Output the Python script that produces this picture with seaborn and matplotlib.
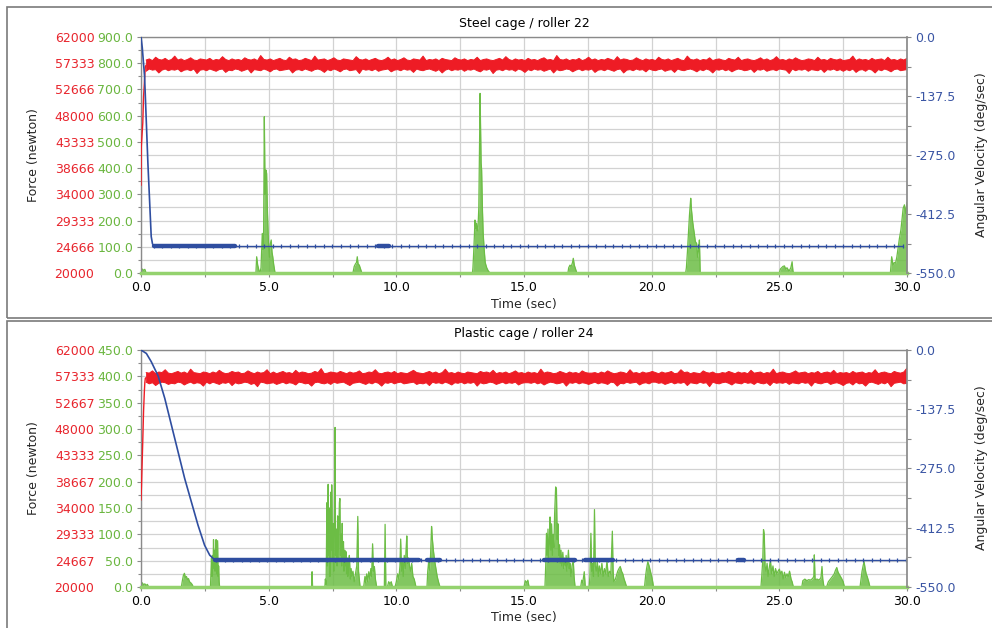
import numpy as np
import pandas as pd
import matplotlib
matplotlib.use("Agg")
import matplotlib.pyplot as plt
import seaborn as sns
from matplotlib.patches import Rectangle
from matplotlib.ticker import MultipleLocator, FixedLocator, FixedFormatter

sns.set_theme(style="white")
plt.rcParams['font.family'] = ['DejaVu Sans']

# ---------------- data ----------------
titles = ["Steel cage / roller 22", "Plastic cage / roller 24"]
x_ticks = [0.0, 5.0, 10.0, 15.0, 20.0, 25.0, 30.0]
x_tick_labels = ["0.0", "5.0", "10.0", "15.0", "20.0", "25.0", "30.0"]

red_labels_top = ["20000", "24666", "29333", "34000", "38666", "43333", "48000", "52666", "57333", "62000"]
red_labels_bot = ["20000", "24667", "29333", "34000", "38667", "43333", "48000", "52667", "57333", "62000"]
green_ticks_top = [0, 100, 200, 300, 400, 500, 600, 700, 800, 900]
green_ticks_bot = [0, 50, 100, 150, 200, 250, 300, 350, 400, 450]
blue_ticks = [-550.0, -412.5, -275.0, -137.5, 0.0]

# red force: start ramp (N)
red_ramp_t_top = [0.0, 0.01, 0.04, 0.07, 0.10, 0.14, 0.17, 0.20]
red_ramp_v_top = [35600, 42400, 44500, 46700, 51400, 54500, 56700, 57000]
red_ramp_t_bot = [0.0, 0.02, 0.065, 0.10, 0.13, 0.15, 0.17, 0.20]
red_ramp_v_bot = [35400, 38000, 45200, 51100, 54500, 56200, 57000, 57100]

# red force noise: upper / lower extent of the trace after the ramp (hundreds of N), 0.2 s .. 30 s
red_hi_top = [579, 581, 578, 584, 580, 579, 582, 578, 580, 586, 579, 581, 578, 580, 583, 579, 578, 581, 580, 579,
              582, 578, 580, 579, 585, 580, 578, 581, 579, 580, 578, 583, 580, 579, 581, 578, 587, 580, 579, 581,
              578, 580, 582, 579, 578, 584, 580, 581, 578, 579, 582, 580, 578, 586, 579, 580, 581, 578, 580, 583,
              579, 578, 581, 580, 579, 578, 585, 580, 579, 581, 578, 580, 582, 579, 578, 580, 584, 579, 581, 578,
              580, 583, 579, 578, 581, 580, 579, 586, 578, 580, 579, 581, 578, 582, 580, 579, 578, 583, 580, 579,
              581, 578, 580, 579, 584, 578, 580, 581, 579, 578, 580, 582, 579, 585, 580, 578, 581, 579, 580, 578,
              582, 579, 580, 578, 581, 583, 579, 580, 578, 587, 580, 579, 581, 578, 580, 579, 582, 578, 580, 584,
              579, 581, 578, 580, 579, 582, 580, 578, 585, 579, 581, 580, 578, 579, 583, 580, 578, 581, 579, 580,
              578, 584, 580, 579, 581, 578, 580, 582, 579, 578, 586, 580, 579, 581, 578, 580, 579, 583, 578, 580,
              581, 579, 578, 582, 580, 579, 584, 578, 580, 581, 579, 578, 580, 583, 579, 581, 578, 580, 585, 579,
              580, 578, 581, 579, 583, 580, 578, 579, 581, 580, 578, 584, 579, 580, 578, 582, 580, 579, 581, 578,
              579, 580, 586, 578, 581, 579, 580, 578, 582, 579, 580, 581, 578, 584, 579, 580, 578, 581, 579, 582]
red_lo_top = [559, 563, 561, 562, 556, 561, 563, 560, 562, 561, 563, 558, 561, 562, 560, 563, 555, 561, 562, 560,
              563, 561, 559, 562, 563, 557, 561, 560, 563, 562, 559, 561, 563, 556, 562, 561, 560, 563, 561, 558,
              562, 563, 560, 561, 562, 563, 556, 561, 562, 560, 563, 561, 559, 562, 563, 561, 557, 562, 560, 563,
              561, 558, 562, 563, 560, 561, 562, 555, 563, 561, 562, 560, 563, 559, 561, 562, 563, 558, 561, 562,
              560, 563, 561, 562, 557, 563, 561, 560, 562, 563, 561, 559, 562, 556, 561, 563, 560, 562, 561, 563,
              559, 562, 561, 563, 560, 558, 562, 561, 563, 555, 561, 562, 560, 563, 561, 562, 559, 563, 561, 557,
              562, 560, 563, 561, 562, 559, 561, 563, 556, 562, 560, 561, 563, 562, 558, 561, 563, 560, 562, 561,
              563, 557, 561, 562, 560, 563, 561, 559, 562, 563, 556, 561, 562, 560, 563, 561, 562, 558, 563, 561,
              560, 562, 563, 559, 561, 562, 557, 563, 561, 560, 562, 563, 561, 558, 562, 560, 563, 561, 556, 562,
              561, 563, 560, 562, 558, 561, 563, 562, 560, 561, 563, 557, 562, 561, 563, 559, 561, 562, 560, 563,
              562, 561, 555, 563, 560, 562, 561, 563, 559, 562, 561, 560, 563, 557, 562, 561, 563, 560, 562, 559,
              562, 560, 563, 557, 561, 562, 559, 563, 561, 556, 562, 560, 563, 561, 558, 562, 563, 560, 561, 562]
red_hi_bot = [580, 579, 583, 578, 581, 580, 585, 579, 578, 580, 582, 579, 581, 578, 586, 580, 579, 578, 581, 580,
              578, 581, 579, 584, 580, 578, 579, 582, 580, 581, 578, 579, 583, 580, 578, 581, 579, 580, 585, 578,
              581, 578, 580, 582, 579, 580, 578, 584, 579, 581, 580, 578, 579, 582, 580, 587, 578, 579, 581, 580,
              579, 582, 580, 578, 581, 579, 580, 583, 578, 579, 581, 580, 585, 579, 578, 580, 581, 579, 582, 578,
              580, 579, 578, 581, 584, 580, 579, 578, 580, 582, 579, 581, 578, 580, 586, 579, 580, 578, 581, 579,
              578, 581, 580, 579, 578, 582, 580, 581, 579, 584, 578, 580, 579, 581, 578, 580, 583, 579, 580, 578,
              581, 579, 580, 578, 586, 579, 581, 580, 578, 579, 582, 580, 578, 581, 579, 580, 578, 583, 580, 579,
              579, 580, 578, 581, 579, 583, 580, 578, 579, 581, 580, 578, 585, 579, 580, 578, 581, 579, 580, 582,
              580, 578, 581, 579, 580, 582, 578, 579, 585, 580, 581, 578, 580, 579, 578, 583, 580, 579, 581, 578,
              578, 580, 579, 582, 580, 578, 581, 579, 580, 578, 584, 579, 580, 581, 578, 580, 579, 586, 578, 580,
              581, 579, 578, 580, 583, 579, 580, 581, 578, 580, 579, 582, 578, 580, 581, 579, 584, 578, 580, 579,
              580, 578, 582, 579, 580, 581, 578, 580, 579, 585, 578, 580, 581, 579, 578, 582, 580, 579, 581, 588]
red_lo_bot = [563, 560, 562, 557, 561, 563, 562, 559, 561, 560, 563, 562, 558, 561, 563, 560, 562, 561, 556, 563,
              560, 563, 561, 559, 562, 561, 563, 557, 562, 560, 561, 563, 562, 559, 561, 555, 563, 562, 560, 561,
              562, 559, 561, 563, 560, 562, 561, 558, 563, 562, 560, 561, 556, 562, 563, 561, 560, 562, 559, 563,
              561, 562, 563, 560, 557, 561, 562, 563, 561, 559, 562, 560, 563, 561, 556, 562, 561, 563, 560, 562,
              563, 560, 561, 562, 563, 559, 561, 560, 562, 557, 563, 561, 562, 560, 563, 561, 558, 562, 561, 563,
              560, 562, 561, 563, 556, 562, 560, 561, 563, 562, 559, 561, 563, 560, 562, 561, 563, 558, 561, 562,
              562, 561, 563, 560, 562, 558, 561, 563, 562, 560, 561, 563, 556, 562, 561, 563, 560, 562, 561, 559,
              561, 563, 560, 562, 561, 559, 563, 562, 556, 561, 560, 563, 561, 562, 563, 558, 561, 562, 560, 563,
              563, 561, 562, 559, 561, 563, 560, 562, 561, 563, 557, 562, 561, 560, 563, 561, 562, 555, 563, 561,
              560, 562, 563, 561, 558, 562, 561, 560, 563, 561, 562, 559, 563, 561, 560, 562, 557, 563, 561, 562,
              561, 563, 559, 562, 561, 560, 563, 561, 562, 556, 563, 561, 560, 562, 563, 559, 561, 562, 560, 557,
              561, 562, 558, 563, 560, 561, 556, 562, 563, 561, 559, 562, 560, 563, 555, 561, 562, 563, 560, 561]

# angular velocity (deg/sec): spin-down then steady value
blue_drop_t_top = [0.0, 0.05, 0.14, 0.27, 0.40, 0.45, 0.50]
blue_drop_v_top = [0, -25, -92, -294, -465, -482, -487]
blue_drop_t_bot = [0.0, 0.21, 0.40, 0.67, 0.93, 1.19, 1.45, 1.71, 1.97, 2.23, 2.49, 2.69, 2.85, 2.95]
blue_drop_v_bot = [0, -8, -27, -60, -112, -174, -236, -298, -352, -406, -453, -476, -485, -487]
blue_steady = -487
blue_thick_top = [(0.5, 3.7), (9.3, 9.7)]
blue_thick_bot = [(2.9, 10.9), (11.2, 11.7), (15.8, 17.0), (17.4, 18.5), (23.4, 23.6)]

# green contact force bursts (time s, value)
green_t_top = [0.0, 0.05, 0.10, 0.15, 0.20,
               4.50, 4.53, 4.57, 4.62, 4.66, 4.70, 4.75, 4.78, 4.80, 4.83, 4.86, 4.89, 4.92, 4.95, 4.98, 5.00, 5.03, 5.06, 5.10, 5.13, 5.16, 5.20, 5.25,
               8.30, 8.35, 8.40, 8.44, 8.47, 8.50, 8.55, 8.60, 8.65,
               12.98, 13.00, 13.03, 13.06, 13.08, 13.11, 13.14, 13.17, 13.20, 13.23, 13.26, 13.28, 13.30, 13.32, 13.34, 13.37, 13.40, 13.44, 13.48, 13.54, 13.60, 13.67,
               16.72, 16.75, 16.80, 16.85, 16.90, 16.93, 16.97, 17.02, 17.07,
               21.33, 21.36, 21.40, 21.44, 21.48, 21.51, 21.53, 21.56, 21.60, 21.63, 21.67, 21.71, 21.76, 21.80, 21.84, 21.87, 21.90,
               25.00, 25.04, 25.09, 25.14, 25.20, 25.25, 25.30, 25.38, 25.45, 25.50, 25.53, 25.55,
               29.35, 29.40, 29.45, 29.50, 29.55, 29.60, 29.66, 29.70, 29.76, 29.80, 29.85, 29.90, 29.95, 30.0]
green_v_top = [12, 15, 10, 14, 0,
               0, 62, 30, 10, 0, 20, 151, 90, 123, 596, 300, 393, 380, 240, 150, 100, 60, 110, 126, 80, 62, 30, 0,
               0, 25, 35, 40, 62, 35, 30, 15, 0,
               0, 20, 80, 150, 202, 170, 190, 160, 177, 250, 500, 685, 550, 420, 393, 250, 152, 90, 40, 20, 8, 0,
               0, 20, 30, 25, 40, 56, 30, 15, 0,
               0, 20, 80, 151, 220, 260, 285, 240, 200, 177, 150, 120, 113, 60, 90, 126, 0,
               0, 15, 20, 25, 27, 15, 20, 7, 20, 43, 10, 0,
               0, 62, 30, 40, 37, 60, 101, 130, 164, 200, 247, 260, 227, 270]

green_t_bot = [0.0, 0.05, 0.10, 0.15, 0.20, 0.25, 0.30,
               1.58, 1.62, 1.66, 1.70, 1.74, 1.78, 1.82, 1.86, 1.90, 1.95, 2.00, 2.05,
               2.72, 2.74, 2.76, 2.78, 2.80, 2.82, 2.84, 2.86, 2.88, 2.90, 2.92, 2.94, 2.96, 2.98, 3.00, 3.02, 3.04, 3.06, 3.08,
               6.68, 6.70, 6.72,
               7.20, 7.22, 7.25, 7.28, 7.30, 7.33, 7.35, 7.38, 7.40, 7.43, 7.45, 7.47, 7.50, 7.53, 7.55, 7.58, 7.60, 7.62, 7.65, 7.68,
               7.70, 7.72, 7.75, 7.77, 7.79, 7.81, 7.84, 7.86, 7.88, 7.90, 7.93, 7.95, 7.98, 8.00, 8.03, 8.05, 8.08, 8.10, 8.13, 8.16,
               8.20, 8.23, 8.26, 8.30, 8.35, 8.40, 8.45, 8.49, 8.52, 8.55, 8.58,
               8.72, 8.77, 8.80, 8.84, 8.88, 8.92, 8.96, 9.00, 9.03, 9.07, 9.10, 9.14, 9.18, 9.23,
               9.53, 9.56, 9.59,
               9.65, 9.70, 9.75, 9.80, 9.85,
               9.95, 10.00, 10.05, 10.10, 10.14, 10.17, 10.20, 10.24, 10.27, 10.31, 10.35, 10.38, 10.41, 10.44, 10.48, 10.52, 10.56, 10.60, 10.65, 10.70, 10.77,
               11.20, 11.23, 11.27, 11.30, 11.34, 11.38, 11.41, 11.45, 11.50, 11.55, 11.60, 11.65, 11.71,
               15.00, 15.05, 15.10, 15.15, 15.20,
               15.82, 15.85, 15.88, 15.91, 15.94, 15.97, 16.00, 16.02, 16.05, 16.08, 16.11, 16.14, 16.17, 16.20, 16.24, 16.27, 16.30,
               16.33, 16.36, 16.39, 16.42, 16.45, 16.48, 16.52, 16.55, 16.58, 16.62, 16.65, 16.68, 16.71, 16.74, 16.77, 16.80, 16.84,
               16.88, 16.93, 16.96, 17.00,
               17.22, 17.26, 17.30, 17.36, 17.40,
               17.55, 17.58, 17.62, 17.65, 17.69, 17.72, 17.76, 17.79, 17.83, 17.87, 17.91, 17.95, 18.00, 18.05, 18.10, 18.15, 18.20,
               18.25, 18.30, 18.35, 18.40, 18.46, 18.49, 18.52,
               18.58, 18.62, 18.67, 18.72, 18.77, 18.82, 18.87, 18.92, 18.97, 19.02,
               19.72, 19.76, 19.80, 19.85, 19.90, 19.95, 20.00, 20.04, 20.07,
               24.28, 24.31, 24.35, 24.38, 24.41, 24.44, 24.48, 24.52, 24.56, 24.60, 24.65, 24.70, 24.75, 24.80, 24.85, 24.90, 24.95,
               25.00, 25.05, 25.10, 25.15, 25.20, 25.25, 25.30, 25.35, 25.40, 25.46, 25.50, 25.55,
               25.88, 25.92, 26.00, 26.08, 26.15, 26.22, 26.30, 26.35, 26.37, 26.40, 26.48, 26.56, 26.63, 26.67, 26.70, 26.75,
               26.85, 26.92, 27.00, 27.08, 27.15, 27.20, 27.25, 27.30, 27.37, 27.44, 27.50, 27.55,
               28.16, 28.20, 28.24, 28.28, 28.32, 28.36, 28.40, 28.44, 28.50, 28.55]
green_v_bot = [5, 8, 4, 6, 3, 5, 0,
               0, 12, 22, 26, 18, 20, 14, 16, 10, 8, 5, 0,
               0, 30, 55, 20, 60, 35, 90, 40, 70, 30, 55, 90, 25, 60, 88, 20, 40, 10, 0,
               0, 29, 0,
               0, 15, 5, 160, 40, 195, 60, 150, 20, 180, 70, 194, 50, 120, 30, 150, 303, 60, 110, 40,
               135, 50, 120, 160, 168, 60, 100, 40, 121, 50, 86, 30, 70, 40, 67, 25, 55, 20, 45, 60,
               15, 35, 20, 30, 10, 25, 40, 134, 30, 15, 0,
               0, 20, 8, 25, 10, 29, 15, 35, 20, 82, 30, 39, 15, 0,
               0, 119, 0,
               0, 10, 6, 10, 0,
               0, 10, 25, 15, 40, 91, 30, 51, 20, 60, 35, 70, 97, 45, 55, 39, 30, 45, 20, 15, 0,
               0, 30, 50, 32, 60, 115, 92, 70, 50, 35, 20, 10, 0,
               0, 12, 8, 13, 0,
               0, 40, 102, 60, 110, 50, 90, 133, 70, 120, 60, 100, 75, 140, 190, 186, 90,
               120, 60, 80, 45, 70, 40, 66, 35, 55, 40, 60, 30, 50, 70, 35, 45, 20,
               40, 51, 20, 0,
               0, 13, 8, 29, 0,
               0, 20, 102, 30, 45, 20, 147, 40, 30, 50, 20, 40, 25, 45, 20, 35, 25,
               50, 20, 30, 25, 106, 30, 10,
               15, 22, 30, 35, 39, 30, 25, 15, 8, 0,
               0, 20, 35, 48, 40, 30, 20, 10, 0,
               0, 20, 50, 109, 100, 40, 30, 45, 20, 35, 51, 25, 40, 20, 35, 25, 30,
               34, 25, 30, 15, 28, 18, 25, 20, 30, 15, 10, 0,
               0, 12, 15, 12, 14, 13, 16, 20, 61, 14, 15, 13, 18, 39, 15, 0,
               0, 10, 15, 20, 25, 32, 37, 28, 22, 16, 10, 0,
               0, 15, 30, 40, 48, 35, 25, 20, 10, 0]

# ---------------- style ----------------
RED = "#ee1c25"
GREEN = "#6cbd45"
GREEN_BASE = "#94d26e"
BLUE = "#2f4ea0"
RED_TXT = "#e8252d"
GREEN_TXT = "#6ab63f"
BLUE_TXT = "#3a55a4"
GRID = "#d2d2d2"
SPINE = "#8a8a8a"
FS = 9

W, H = 992, 628
fig = plt.figure(figsize=(W / 100, H / 100), dpi=100)


def fx(px):
    return px / W


def fy(py):
    return 1 - py / H


def with_zero_gaps(t, v):
    tt, vv = [0.0], [0.0]
    tt += list(t)
    vv += list(v)
    tt.append(30.0)
    vv.append(vv[-1])
    return tt, vv


def panel(top_px, bot_px, title, title_gap, gmax, gticks, red_labels, g_t, g_v,
          rr_t, rr_v, r_hi, r_lo, b_t, b_v, thick):
    ax = fig.add_axes([fx(141), fy(bot_px), fx(907 - 141), (bot_px - top_px) / H])
    ax.set_xlim(0, 30)
    ax.set_ylim(0, gmax)
    ax.set_facecolor("white")
    ax.xaxis.set_major_locator(FixedLocator(x_ticks))
    ax.xaxis.set_major_formatter(FixedFormatter(x_tick_labels))
    ax.xaxis.set_minor_locator(MultipleLocator(2.5))
    ax.yaxis.set_major_locator(FixedLocator(gticks))
    ax.yaxis.set_major_formatter(FixedFormatter([f"{g:.1f}" for g in gticks]))
    ax.yaxis.set_minor_locator(MultipleLocator(gticks[1] / 2))
    ax.grid(True, which="both", color=GRID, lw=0.9)
    ax.set_axisbelow(True)
    ax.tick_params(axis="y", which="both", left=True, length=3, width=0.8, color=SPINE,
                   labelcolor=GREEN_TXT, labelsize=FS, pad=2.5)
    ax.tick_params(axis="y", which="minor", length=2.5)
    ax.tick_params(axis="x", which="both", bottom=True, length=3, width=0.8, color=SPINE,
                   labelcolor="black", labelsize=FS, pad=3)
    for s in ["top", "left"]:
        ax.spines[s].set_color(SPINE)
        ax.spines[s].set_linewidth(1.0)
    ax.spines["right"].set_visible(False)
    ax.spines["bottom"].set_color(GREEN_BASE)
    ax.spines["bottom"].set_linewidth(2.5)

    # green trace
    gt, gv = with_zero_gaps(g_t, g_v)
    ax.fill_between(g_t, 0, g_v, color=GREEN, alpha=0.85, lw=0)
    sns.lineplot(x=gt, y=gv, ax=ax, color=GREEN, lw=0.9, estimator=None, sort=False)
    ax.set_xlabel("")
    ax.set_ylabel("")

    # red trace on its own scale
    axr = ax.twinx()
    axr.set_ylim(20000, 62000)
    axr.set_xlim(0, 30)
    red_tick_pos = [20000 + i * (42000 / 9) for i in range(10)]
    axr.yaxis.set_major_locator(FixedLocator(red_tick_pos))
    axr.yaxis.set_major_formatter(FixedFormatter(red_labels))
    axr.yaxis.tick_left()
    axr.tick_params(axis="y", length=0, labelcolor=RED_TXT, labelsize=FS, pad=33.5)
    for s in axr.spines.values():
        s.set_visible(False)
    t_hi = np.linspace(0.2, 30.0, len(r_hi))
    t_lo = np.linspace(0.2, 30.0, len(r_lo))
    hi = np.array(r_hi) * 100.0
    lo = np.array(r_lo) * 100.0
    axr.fill(np.concatenate([t_hi, t_lo[::-1]]), np.concatenate([hi, lo[::-1]]), color=RED, lw=0)
    sns.lineplot(x=t_hi, y=hi, ax=axr, color=RED, lw=0.7, estimator=None)
    sns.lineplot(x=t_lo, y=lo, ax=axr, color=RED, lw=0.7, estimator=None)
    sns.lineplot(x=rr_t, y=rr_v, ax=axr, color=RED, lw=1.0, estimator=None, sort=False)
    axr.set_ylabel("")

    # blue trace on right scale
    axb = ax.twinx()
    axb.set_ylim(-550, 0)
    axb.set_xlim(0, 30)
    axb.yaxis.set_major_locator(FixedLocator(blue_ticks))
    axb.yaxis.set_major_formatter(FixedFormatter([f"{b:.1f}" for b in blue_ticks]))
    axb.yaxis.set_minor_locator(MultipleLocator(68.75))
    axb.tick_params(axis="y", which="both", right=True, length=3, width=0.8, color=SPINE,
                    labelcolor=BLUE_TXT, labelsize=FS, pad=3)
    for s in ["top", "left", "bottom"]:
        axb.spines[s].set_visible(False)
    axb.spines["right"].set_color(SPINE)
    sns.lineplot(x=b_t, y=b_v, ax=axb, color=BLUE, lw=1.2, estimator=None, sort=False)
    steady_t = np.arange(b_t[-1], 30.0001, 1 / 3)
    sns.lineplot(x=steady_t, y=[blue_steady] * len(steady_t), ax=axb, color=BLUE, lw=1.0,
                 estimator=None, marker="|", markersize=3.0, markeredgewidth=0.9, markeredgecolor=BLUE)
    for a, b in thick:
        sns.lineplot(x=[a, b], y=[blue_steady, blue_steady], ax=axb, color=BLUE, lw=3.2, estimator=None)
    axb.set_ylabel("")
    axb.set_xlabel("")

    fig.text(fx(524), fy(top_px - title_gap), title, ha="center", va="center",
             fontsize=FS, color="black")
    return ax


panel(37, 273, titles[0], 13, 900, green_ticks_top, red_labels_top, green_t_top, green_v_top,
      red_ramp_t_top, red_ramp_v_top, red_hi_top, red_lo_top,
      blue_drop_t_top, blue_drop_v_top, blue_thick_top)
panel(350, 587, titles[1], 16.5, 450, green_ticks_bot, red_labels_bot, green_t_bot, green_v_bot,
      red_ramp_t_bot, red_ramp_v_bot, red_hi_bot, red_lo_bot,
      blue_drop_t_bot, blue_drop_v_bot, blue_thick_bot)

# axis titles
for yc in (155, 468):
    fig.text(fx(33), fy(yc), "Force (newton)", rotation=90, ha="center", va="center", fontsize=FS)
    fig.text(fx(981), fy(yc), "Angular Velocity (deg/sec)", rotation=90, ha="center", va="center", fontsize=FS)
fig.text(fx(524), fy(305), "Time (sec)", ha="center", va="center", fontsize=FS)
fig.text(fx(524), fy(618), "Time (sec)", ha="center", va="center", fontsize=FS)

# panel frames
for (x0, y0, x1, y1) in [(7, 7, 1000, 318), (7, 321, 1000, 640)]:
    fig.patches.append(Rectangle((fx(x0), fy(y1)), fx(x1 - x0), (y1 - y0) / H, transform=fig.transFigure,
                                 fill=False, edgecolor="#7a7a7a", lw=1.2, clip_on=False))

fig.savefig("out.png", dpi=100)
